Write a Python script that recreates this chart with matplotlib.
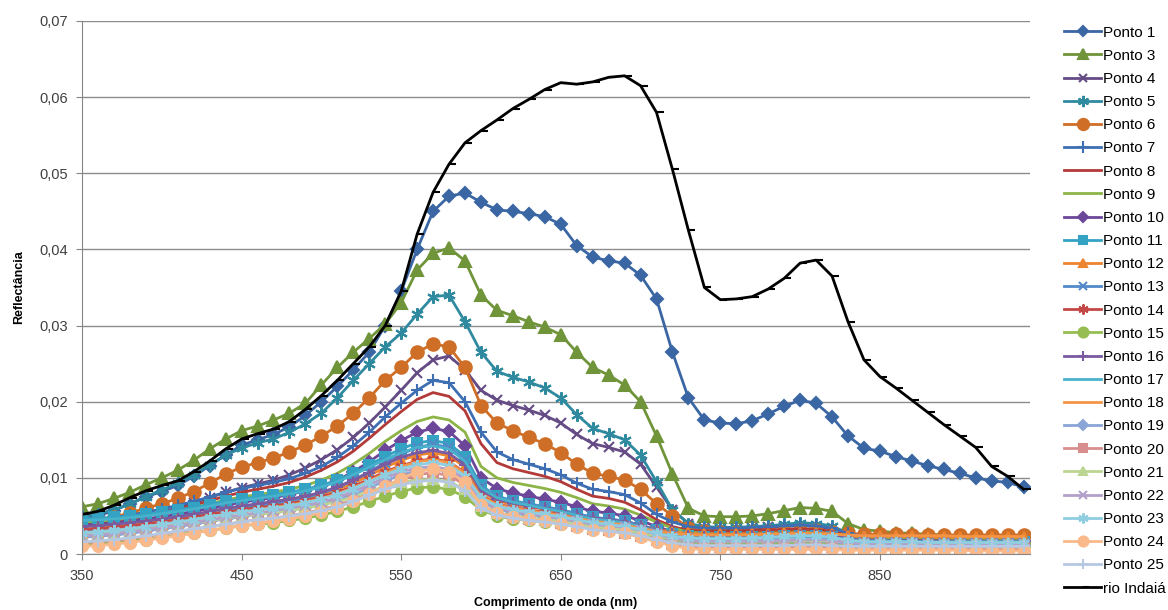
import matplotlib.pyplot as plt
import numpy as np
from matplotlib.ticker import FuncFormatter

# wavelengths (nm), one reading every 10 nm
wavelength = np.arange(350, 950, 10)

rio_indaia = [
    .0052, .0056, .0064, .0074, .0083, .0090, .0096, .0108, .0122, .0138,
    .0151, .0158, .0164, .0174, .0190, .0208, .0228, .0250, .0272, .0300,
    .0345, .0420, .0475, .0512, .0540, .0556, .0570, .0585, .0597, .0610,
    .0619, .0617, .0620, .0626, .0628, .0615, .0580, .0505, .0425, .0350,
    .0334, .0335, .0338, .0348, .0362, .0382, .0386, .0365, .0305, .0255,
    .0233, .0218, .0202, .0186, .0170, .0155, .0140, .0115, .0102, .0085]
ponto1 = [
    .0046, .0050, .0057, .0066, .0075, .0082, .0090, .0102, .0116, .0130,
    .0143, .0150, .0157, .0167, .0182, .0200, .0220, .0242, .0265, .0300,
    .0345, .0400, .0450, .0470, .0474, .0462, .0452, .0450, .0447, .0443,
    .0433, .0405, .0390, .0385, .0382, .0366, .0335, .0265, .0205, .0176,
    .0172, .0171, .0175, .0184, .0194, .0202, .0198, .0180, .0155, .0139,
    .0135, .0128, .0122, .0116, .0111, .0106, .0100, .0096, .0094, .0088]
ponto3 = [
    .0062, .0066, .0073, .0081, .0091, .0100, .0110, .0123, .0138, .0151,
    .0162, .0168, .0176, .0185, .0198, .0222, .0245, .0265, .0283, .0302,
    .0330, .0373, .0395, .0402, .0385, .0340, .0320, .0313, .0305, .0298,
    .0288, .0265, .0245, .0235, .0222, .0200, .0155, .0105, .0060, .0050,
    .0049, .0049, .0050, .0053, .0057, .0061, .0060, .0056, .0040, .0032,
    .0030, .0028, .0027, .0026, .0025, .0024, .0023, .0023, .0022, .0022]
ponto4 = [
    .0036, .0038, .0041, .0045, .0050, .0055, .0061, .0067, .0074, .0081,
    .0087, .0092, .0097, .0104, .0113, .0124, .0137, .0153, .0172, .0193,
    .0215, .0238, .0255, .0260, .0242, .0215, .0202, .0195, .0189, .0182,
    .0172, .0157, .0145, .0140, .0134, .0118, .0088, .0058, .0040, .0034,
    .0033, .0033, .0034, .0035, .0036, .0037, .0036, .0033, .0026, .0022,
    .0021, .0021, .0020, .0020, .0020, .0019, .0019, .0019, .0018, .0018]
ponto5 = [
    .0050, .0053, .0058, .0066, .0075, .0084, .0093, .0104, .0117, .0130,
    .0139, .0146, .0151, .0160, .0171, .0185, .0205, .0228, .0250, .0272,
    .0290, .0315, .0338, .0340, .0305, .0265, .0240, .0232, .0226, .0218,
    .0205, .0183, .0165, .0158, .0150, .0130, .0095, .0058, .0040, .0036,
    .0035, .0035, .0036, .0037, .0039, .0041, .0040, .0037, .0027, .0022,
    .0021, .0020, .0020, .0019, .0019, .0019, .0018, .0018, .0018, .0018]
ponto6 = [
    .0042, .0044, .0048, .0054, .0060, .0066, .0073, .0082, .0093, .0105,
    .0114, .0120, .0126, .0134, .0143, .0155, .0168, .0185, .0205, .0228,
    .0245, .0265, .0276, .0272, .0245, .0195, .0172, .0162, .0153, .0145,
    .0133, .0118, .0106, .0102, .0097, .0085, .0066, .0050, .0034, .0030,
    .0029, .0029, .0029, .0030, .0030, .0031, .0031, .0029, .0027, .0026,
    .0026, .0026, .0025, .0025, .0025, .0025, .0025, .0025, .0025, .0025]
ponto7 = [
    .0045, .0046, .0048, .0051, .0055, .0059, .0064, .0069, .0075, .0081,
    .0086, .0090, .0094, .0099, .0106, .0115, .0127, .0142, .0160, .0180,
    .0198, .0215, .0228, .0225, .0200, .0160, .0134, .0124, .0118, .0112,
    .0104, .0093, .0085, .0082, .0078, .0067, .0052, .0042, .0036, .0034,
    .0034, .0034, .0035, .0036, .0037, .0038, .0037, .0034, .0027, .0023,
    .0022, .0021, .0021, .0020, .0020, .0019, .0019, .0019, .0018, .0018]
ponto8 = [
    .0040, .0041, .0043, .0046, .0050, .0054, .0059, .0064, .0070, .0076,
    .0081, .0085, .0089, .0094, .0101, .0110, .0121, .0135, .0152, .0170,
    .0187, .0203, .0212, .0207, .0188, .0145, .0120, .0112, .0107, .0102,
    .0095, .0085, .0076, .0073, .0068, .0058, .0045, .0036, .0031, .0030,
    .0030, .0030, .0031, .0032, .0032, .0033, .0032, .0030, .0024, .0021,
    .0020, .0020, .0019, .0019, .0019, .0018, .0018, .0018, .0017, .0017]
ponto9 = [
    .0042, .0043, .0045, .0047, .0050, .0053, .0057, .0061, .0066, .0071,
    .0075, .0078, .0081, .0085, .0090, .0097, .0106, .0118, .0132, .0148,
    .0162, .0174, .0180, .0176, .0160, .0115, .0100, .0094, .0090, .0086,
    .0081, .0074, .0066, .0063, .0059, .0051, .0042, .0034, .0029, .0027,
    .0026, .0026, .0026, .0027, .0027, .0028, .0028, .0027, .0024, .0022,
    .0022, .0021, .0021, .0021, .0021, .0020, .0020, .0020, .0020, .0020]
ponto10 = [
    .0038, .0039, .0041, .0043, .0046, .0049, .0052, .0056, .0060, .0064,
    .0068, .0071, .0074, .0078, .0083, .0089, .0097, .0108, .0121, .0136,
    .0149, .0160, .0165, .0161, .0142, .0100, .0086, .0080, .0076, .0072,
    .0068, .0062, .0056, .0054, .0050, .0044, .0036, .0029, .0025, .0023,
    .0023, .0023, .0023, .0024, .0024, .0025, .0025, .0024, .0020, .0018,
    .0018, .0018, .0018, .0017, .0017, .0017, .0017, .0017, .0017, .0017]
ponto11 = [
    .0046, .0047, .0048, .0050, .0052, .0055, .0058, .0061, .0065, .0069,
    .0072, .0075, .0078, .0081, .0085, .0090, .0097, .0106, .0117, .0128,
    .0138, .0146, .0149, .0145, .0128, .0090, .0076, .0070, .0066, .0062,
    .0058, .0053, .0048, .0046, .0043, .0038, .0032, .0026, .0023, .0022,
    .0022, .0022, .0022, .0022, .0023, .0023, .0023, .0022, .0019, .0017,
    .0017, .0017, .0017, .0016, .0016, .0016, .0016, .0016, .0016, .0016]
ponto12 = [
    .0033, .0034, .0036, .0038, .0040, .0043, .0046, .0049, .0053, .0057,
    .0060, .0063, .0066, .0069, .0073, .0078, .0085, .0093, .0103, .0114,
    .0123, .0130, .0133, .0129, .0114, .0082, .0070, .0065, .0062, .0059,
    .0055, .0050, .0046, .0044, .0041, .0037, .0032, .0029, .0027, .0026,
    .0026, .0026, .0026, .0026, .0027, .0027, .0027, .0026, .0024, .0023,
    .0023, .0023, .0023, .0022, .0022, .0022, .0022, .0022, .0022, .0022]
ponto13 = [
    .0030, .0031, .0033, .0035, .0038, .0041, .0044, .0048, .0052, .0056,
    .0060, .0063, .0066, .0070, .0074, .0080, .0087, .0097, .0108, .0120,
    .0131, .0140, .0144, .0140, .0124, .0088, .0075, .0069, .0065, .0062,
    .0058, .0053, .0048, .0046, .0043, .0038, .0031, .0025, .0021, .0020,
    .0020, .0020, .0021, .0022, .0023, .0023, .0023, .0022, .0018, .0016,
    .0016, .0016, .0016, .0015, .0015, .0015, .0015, .0015, .0015, .0015]
ponto14 = [
    .0032, .0033, .0035, .0037, .0039, .0042, .0045, .0048, .0052, .0055,
    .0058, .0061, .0063, .0066, .0070, .0075, .0081, .0089, .0098, .0108,
    .0116, .0122, .0125, .0121, .0107, .0077, .0066, .0061, .0058, .0055,
    .0052, .0047, .0043, .0041, .0038, .0034, .0029, .0025, .0022, .0021,
    .0021, .0021, .0022, .0023, .0024, .0025, .0024, .0023, .0019, .0017,
    .0017, .0016, .0016, .0016, .0015, .0015, .0015, .0015, .0015, .0014]
ponto15 = [
    .0012, .0013, .0015, .0017, .0019, .0022, .0025, .0028, .0031, .0034,
    .0037, .0039, .0041, .0044, .0047, .0051, .0056, .0062, .0069, .0076,
    .0082, .0087, .0088, .0085, .0075, .0058, .0050, .0046, .0044, .0042,
    .0040, .0037, .0034, .0032, .0030, .0026, .0021, .0017, .0015, .0014,
    .0014, .0014, .0014, .0014, .0014, .0015, .0015, .0014, .0013, .0012,
    .0012, .0012, .0012, .0012, .0012, .0012, .0012, .0012, .0012, .0012]
ponto16 = [
    .0036, .0037, .0039, .0041, .0043, .0046, .0049, .0052, .0056, .0060,
    .0063, .0066, .0069, .0072, .0076, .0081, .0088, .0097, .0107, .0118,
    .0127, .0133, .0136, .0132, .0117, .0084, .0072, .0067, .0063, .0060,
    .0056, .0051, .0047, .0045, .0042, .0037, .0031, .0026, .0023, .0022,
    .0022, .0022, .0023, .0023, .0024, .0025, .0025, .0024, .0020, .0018,
    .0018, .0017, .0017, .0017, .0017, .0016, .0016, .0016, .0016, .0016]
ponto17 = [
    .0044, .0045, .0046, .0048, .0050, .0053, .0056, .0059, .0063, .0067,
    .0070, .0073, .0076, .0079, .0083, .0088, .0095, .0104, .0114, .0124,
    .0133, .0140, .0142, .0138, .0122, .0087, .0074, .0068, .0064, .0060,
    .0056, .0051, .0046, .0044, .0041, .0036, .0030, .0025, .0022, .0021,
    .0021, .0021, .0021, .0021, .0022, .0022, .0022, .0021, .0019, .0017,
    .0017, .0017, .0016, .0016, .0016, .0016, .0016, .0016, .0016, .0016]
ponto18 = [
    .0028, .0029, .0031, .0033, .0036, .0039, .0042, .0045, .0049, .0052,
    .0055, .0058, .0061, .0064, .0068, .0073, .0079, .0087, .0096, .0106,
    .0115, .0121, .0124, .0120, .0106, .0076, .0065, .0060, .0057, .0054,
    .0051, .0047, .0043, .0041, .0038, .0034, .0030, .0027, .0025, .0025,
    .0025, .0025, .0025, .0026, .0026, .0027, .0027, .0026, .0025, .0024,
    .0024, .0024, .0024, .0024, .0024, .0023, .0023, .0023, .0023, .0023]
ponto19 = [
    .0022, .0023, .0025, .0027, .0030, .0033, .0036, .0039, .0043, .0046,
    .0049, .0052, .0054, .0057, .0061, .0065, .0071, .0078, .0087, .0096,
    .0104, .0109, .0112, .0108, .0096, .0069, .0059, .0054, .0051, .0049,
    .0046, .0042, .0038, .0036, .0034, .0030, .0025, .0020, .0017, .0016,
    .0016, .0016, .0016, .0016, .0017, .0017, .0017, .0016, .0014, .0013,
    .0013, .0013, .0013, .0012, .0012, .0012, .0012, .0012, .0012, .0012]
ponto20 = [
    .0015, .0016, .0018, .0020, .0023, .0026, .0029, .0032, .0036, .0039,
    .0042, .0045, .0047, .0050, .0054, .0058, .0064, .0071, .0080, .0089,
    .0098, .0104, .0107, .0103, .0091, .0064, .0054, .0049, .0046, .0044,
    .0041, .0037, .0033, .0031, .0028, .0024, .0018, .0013, .0010, .0009,
    .0009, .0009, .0009, .0009, .0009, .0010, .0010, .0009, .0008, .0008,
    .0008, .0008, .0008, .0008, .0007, .0007, .0007, .0007, .0007, .0007]
ponto21 = [
    .0025, .0026, .0028, .0030, .0032, .0035, .0038, .0041, .0044, .0047,
    .0050, .0052, .0054, .0057, .0060, .0064, .0069, .0075, .0082, .0089,
    .0094, .0097, .0098, .0095, .0085, .0063, .0054, .0050, .0047, .0045,
    .0043, .0039, .0036, .0034, .0032, .0028, .0024, .0020, .0018, .0017,
    .0017, .0017, .0017, .0017, .0018, .0018, .0018, .0017, .0016, .0015,
    .0015, .0015, .0015, .0015, .0015, .0015, .0015, .0015, .0015, .0015]
ponto22 = [
    .0024, .0025, .0027, .0029, .0032, .0035, .0038, .0041, .0045, .0048,
    .0051, .0054, .0057, .0060, .0064, .0068, .0074, .0082, .0091, .0100,
    .0108, .0113, .0115, .0111, .0099, .0071, .0061, .0056, .0053, .0050,
    .0047, .0043, .0039, .0037, .0035, .0031, .0026, .0021, .0018, .0017,
    .0017, .0017, .0017, .0018, .0018, .0019, .0019, .0018, .0015, .0014,
    .0014, .0014, .0014, .0013, .0013, .0013, .0013, .0013, .0013, .0013]
ponto23 = [
    .0028, .0029, .0031, .0033, .0036, .0039, .0042, .0045, .0049, .0052,
    .0055, .0058, .0060, .0063, .0067, .0072, .0078, .0086, .0095, .0104,
    .0112, .0117, .0120, .0116, .0103, .0074, .0063, .0058, .0055, .0052,
    .0049, .0045, .0041, .0039, .0036, .0032, .0027, .0023, .0021, .0020,
    .0020, .0020, .0021, .0022, .0023, .0024, .0024, .0022, .0018, .0016,
    .0016, .0016, .0016, .0015, .0015, .0015, .0015, .0015, .0015, .0015]
ponto24 = [
    .0010, .0011, .0013, .0015, .0018, .0021, .0024, .0027, .0031, .0034,
    .0037, .0040, .0043, .0046, .0050, .0055, .0061, .0069, .0079, .0089,
    .0099, .0108, .0112, .0108, .0094, .0065, .0054, .0049, .0046, .0043,
    .0040, .0036, .0032, .0030, .0027, .0022, .0016, .0011, .0007, .0006,
    .0006, .0006, .0006, .0006, .0006, .0006, .0006, .0006, .0005, .0005,
    .0005, .0005, .0005, .0005, .0005, .0005, .0004, .0004, .0004, .0004]
ponto25 = [
    .0016, .0017, .0019, .0021, .0024, .0027, .0030, .0033, .0036, .0039,
    .0042, .0045, .0047, .0050, .0053, .0057, .0062, .0069, .0077, .0085,
    .0091, .0095, .0097, .0094, .0083, .0060, .0051, .0047, .0044, .0042,
    .0039, .0036, .0032, .0030, .0028, .0024, .0019, .0015, .0012, .0011,
    .0011, .0011, .0011, .0011, .0011, .0012, .0012, .0011, .0010, .0010,
    .0010, .0010, .0010, .0010, .0010, .0010, .0010, .0010, .0010, .0010]

labels = ["Ponto 1", "Ponto 3", "Ponto 4", "Ponto 5", "Ponto 6", "Ponto 7",
          "Ponto 8", "Ponto 9", "Ponto 10", "Ponto 11", "Ponto 12", "Ponto 13",
          "Ponto 14", "Ponto 15", "Ponto 16", "Ponto 17", "Ponto 18", "Ponto 19",
          "Ponto 20", "Ponto 21", "Ponto 22", "Ponto 23", "Ponto 24", "Ponto 25",
          "rio Indaiá"]
series = [ponto1, ponto3, ponto4, ponto5, ponto6, ponto7, ponto8, ponto9,
          ponto10, ponto11, ponto12, ponto13, ponto14, ponto15, ponto16, ponto17,
          ponto18, ponto19, ponto20, ponto21, ponto22, ponto23, ponto24, ponto25,
          rio_indaia]

ast = (6, 2, 0)  # asterisk marker like excel's
styles = [
    ("#3a66a3", "D", 6), ("#6f9439", "^", 8), ("#654c85", "x", 7),
    ("#2f8aa0", ast, 9), ("#cf6e27", "o", 9), ("#3e6fb3", "+", 9),
    ("#b23a38", "", 0), ("#8db446", "", 0), ("#6c4799", "D", 6),
    ("#34a2c2", "s", 7), ("#ec8430", "^", 7), ("#5389c9", "x", 7),
    ("#c44845", ast, 8), ("#96bd52", "o", 8), ("#7a5b9f", "+", 8),
    ("#48b1cb", "", 0), ("#f59445", "", 0), ("#8aa5d6", "D", 6),
    ("#d88e8c", "s", 7), ("#bcd593", "^", 7), ("#b1a0c9", "x", 7),
    ("#8fcde0", ast, 8), ("#f9b98b", "o", 8), ("#b6c8e2", "+", 8),
    ("#000000", 1, 5)]

plt.rcParams['font.family'] = ['Liberation Sans', 'DejaVu Sans']
fig = plt.figure(figsize=(11.68, 6.10), dpi=100)
ax = fig.add_axes([0.0702, 0.0918, 0.8116, 0.8738])

for vals, lab, (col, mk, ms) in zip(series, labels, styles):
    if mk == "":
        ax.plot(wavelength, vals, color=col, lw=2, label=lab)
    else:
        ax.plot(wavelength, vals, color=col, lw=2, marker=mk, markersize=ms,
                markeredgewidth=1.5, label=lab)

ax.set_xlim(350, 944)
ax.set_ylim(0, 0.07)
ax.set_xticks([350, 450, 550, 650, 750, 850])
ax.set_yticks(np.arange(0, 0.071, 0.01))
ax.yaxis.set_major_formatter(FuncFormatter(
    lambda v, p: "0" if v == 0 else ("%.2f" % v).replace(".", ",")))
ax.tick_params(colors="#868686", labelcolor="#404040", labelsize=10.5, length=4)
ax.tick_params(axis="x", pad=7)
ax.tick_params(axis="y", pad=6)
ax.grid(axis="y", color="#8c8c8c", lw=1)
ax.set_axisbelow(True)
for s in ["top", "right"]:
    ax.spines[s].set_visible(False)
for s in ["left", "bottom"]:
    ax.spines[s].set_color("#868686")

ax.set_xlabel("Comprimento de onda (nm)", fontsize=9, fontweight="bold", labelpad=10)
ax.set_ylabel("Reflectância", fontsize=9, fontweight="bold", labelpad=10)

fig.legend(loc="upper left", bbox_to_anchor=(0.906, 0.968), frameon=False,
           fontsize=11, handlelength=2.4, handletextpad=0.15, numpoints=1,
           labelspacing=0.60, borderaxespad=0, markerscale=0.9)

plt.savefig("out.png")
